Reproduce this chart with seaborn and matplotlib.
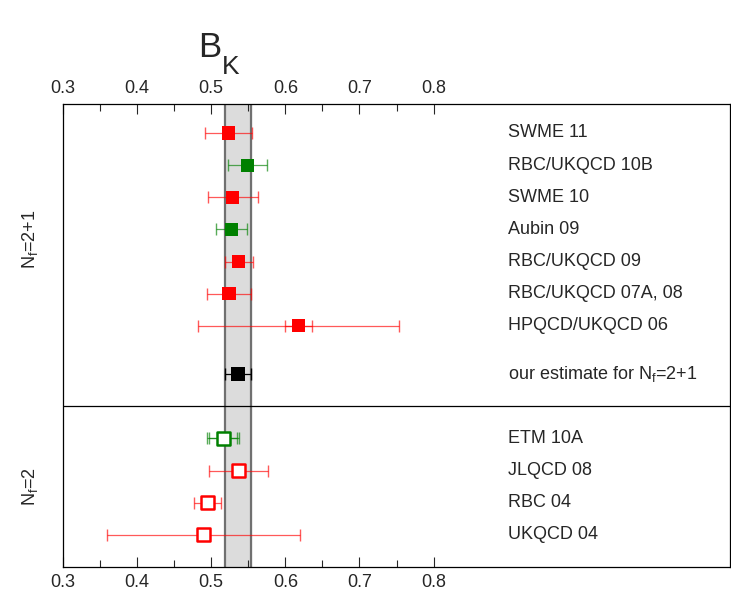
import numpy as np
import pandas as pd
import matplotlib
matplotlib.use("Agg")
import matplotlib.pyplot as plt
import seaborn as sns
from matplotlib.ticker import FixedLocator

# collaboration labels, top to bottom
labels = ["SWME 11", "RBC/UKQCD 10B", "SWME 10", "Aubin 09", "RBC/UKQCD 09",
          "RBC/UKQCD 07A, 08", "HPQCD/UKQCD 06", "our estimate for N$\\mathregular{_f}$=2+1",
          "ETM 10A", "JLQCD 08", "RBC 04", "UKQCD 04"]
rows = [1, 2, 3, 4, 5, 6, 7, 8.5, 10.5, 11.5, 12.5, 13.5]
bk = [0.523, 0.549, 0.529, 0.527, 0.537, 0.524, 0.618, 0.536,
      0.516, 0.537, 0.495, 0.490]
err_tot = [0.032, 0.026, 0.034, 0.021, 0.019, 0.030, 0.136, 0.017,
           0.022, 0.040, 0.018, 0.130]
err_stat = [0.0, 0.004, 0.0, 0.0, 0.0, 0.0, 0.018, 0.0,
            0.019, 0.0, 0.0, 0.0]
colors = ["red", "green", "red", "green", "red", "red", "red", "black",
          "green", "red", "red", "red"]
filled = [True] * 8 + [False] * 4

band_lo, band_hi = 0.519, 0.553

df = pd.DataFrame({"label": labels, "y": rows, "bk": bk, "err": err_tot,
                   "stat": err_stat, "color": colors, "filled": filled})

sns.set_style("white")
plt.rcParams["font.family"] = ["Liberation Sans", "DejaVu Sans"]
plt.rcParams["mathtext.fontset"] = "custom"
plt.rcParams["mathtext.rm"] = "Liberation Sans"
plt.rcParams["mathtext.it"] = "Liberation Sans:italic"

fig = plt.figure(figsize=(7.31, 5.96), dpi=100)
ax = fig.add_axes([0.0862, 0.0487, 0.9125, 0.7768])

# grey band of the estimate
ax.axvspan(band_lo, band_hi, color="#dcdcdc", zorder=0)
ax.axvline(band_lo, color="#707070", lw=1.6, zorder=1)
ax.axvline(band_hi, color="#707070", lw=1.6, zorder=1)
ax.axhline(9.5, color="black", lw=0.9, zorder=1)

for _, r in df.iterrows():
    a = 1.0 if r["color"] == "black" else 0.65
    ax.errorbar(r["bk"], r["y"], xerr=r["err"], fmt="none", ecolor=r["color"],
                elinewidth=0.9, capsize=4.5, capthick=1.0, alpha=a, zorder=2)
    if r["stat"] > 0:
        ax.errorbar(r["bk"], r["y"], xerr=r["stat"], fmt="none", ecolor=r["color"],
                    elinewidth=0.9, capsize=4.5, capthick=1.0, alpha=a, zorder=2)

pal = {"red": "red", "green": "green", "black": "black"}
sns.scatterplot(data=df[df["filled"]], x="bk", y="y", hue="color", palette=pal,
                marker="s", s=90, edgecolor="none", legend=False, ax=ax, zorder=3)
op = df[~df["filled"]]
sns.scatterplot(data=op, x="bk", y="y", marker="s", s=85, facecolor="white",
                edgecolor=op["color"].tolist(), linewidth=1.8, legend=False,
                ax=ax, zorder=3)

for _, r in df.iterrows():
    ax.text(0.9, r["y"], r["label"], fontsize=13, va="center", ha="left")

ax.set_xlim(0.3, 1.2)
ax.set_ylim(14.5, 0.1)
ax.xaxis.set_major_locator(FixedLocator([0.3, 0.4, 0.5, 0.6, 0.7, 0.8]))
ax.xaxis.set_minor_locator(FixedLocator([0.35, 0.45, 0.55, 0.65, 0.75]))
ax.set_yticks([])
ax.tick_params(axis="x", which="both", direction="in", top=True, bottom=True,
               labeltop=True, labelbottom=True, labelsize=13, width=0.8, pad=5)
ax.tick_params(axis="x", which="major", length=7)
ax.tick_params(axis="x", which="minor", length=5)
ax.set_xlabel("")
ax.set_ylabel("")
for s in ax.spines.values():
    s.set_color("black")
    s.set_linewidth(0.9)

ax.text(-0.05, 4.3, "N$\\mathregular{_f}$=2+1", transform=ax.get_yaxis_transform(),
        rotation=90, fontsize=13, ha="center", va="center")
ax.text(-0.05, 12.0, "N$\\mathregular{_f}$=2", transform=ax.get_yaxis_transform(),
        rotation=90, fontsize=13, ha="center", va="center")

# title B with subscript K
fig.text(198 / 731, 1 - 57 / 596, "B", fontsize=25, ha="left", va="baseline")
fig.text(222 / 731, 1 - 74 / 596, "K", fontsize=19, ha="left", va="baseline")

fig.savefig("out.png", dpi=100)
